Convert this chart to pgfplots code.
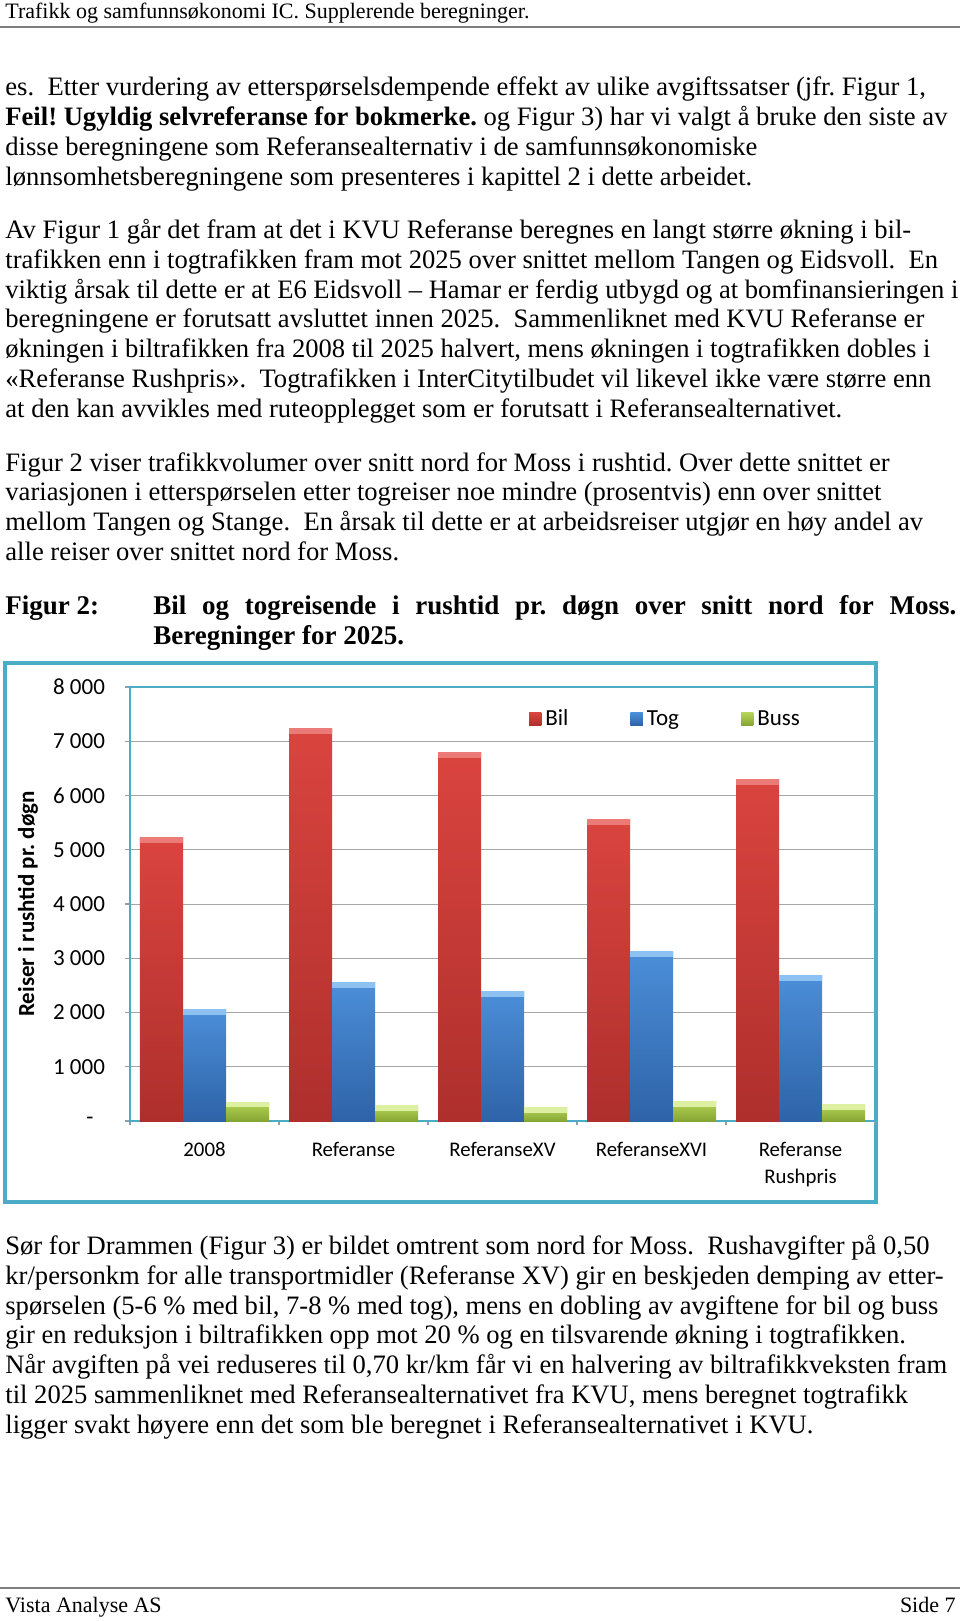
\documentclass[border=0pt]{standalone}
\usepackage{pgfplots}
\pgfplotsset{compat=1.18}
\usetikzlibrary{shapes.geometric}
\usepackage{fontspec}
\setmainfont{Liberation Serif}
\newfontfamily\carlito{Carlito}
\definecolor{frameteal}{HTML}{4BACC6}
\definecolor{rulegray}{HTML}{7F7F7F}
\definecolor{gridgray}{HTML}{A6A6A6}
\definecolor{axgray}{HTML}{8AA0AE}
\definecolor{bilTop}{HTML}{DA443F}
\definecolor{bilBot}{HTML}{AE2F2C}
\definecolor{bilHi}{HTML}{EC7A76}
\definecolor{togTop}{HTML}{4B8ED8}
\definecolor{togBot}{HTML}{2E63A8}
\definecolor{togHi}{HTML}{8DC1F1}
\definecolor{bussTop}{HTML}{B3D257}
\definecolor{bussBot}{HTML}{86A632}
\definecolor{bussHi}{HTML}{DDF0A2}
\newcommand\bodyfont{\fontsize{13.3}{16}\selectfont}
\newcommand\bl[2]{\node[anchor=base west,inner sep=0pt,font=\bodyfont] at (5,#1) {#2};}
\pgfplotsset{
 barbase/.style={ybar, bar width=21.5pt, draw=none, nodes near coords={},
   every node near coord/.append style={shape=trapezium, shape border rotate=180, trapezium left angle=50, trapezium right angle=50, trapezium stretches body, minimum width=21.5pt, minimum height=2.4pt, inner sep=0pt, outer sep=0pt, draw=none, anchor=north, yshift=0.2pt}},
 bil/.style={barbase, bar shift=-21.5pt, top color=bilTop, bottom color=bilBot,
   every node near coord/.append style={top color=bilHi, bottom color=bilHi, xshift=-21.5pt},
   legend image code/.code={\fill[top color=bilTop,bottom color=bilBot] (0pt,-3.1pt) rectangle (6.2pt,3.1pt);}},
 tog/.style={barbase, bar shift=0pt, top color=togTop, bottom color=togBot,
   every node near coord/.append style={top color=togHi, bottom color=togHi},
   legend image code/.code={\fill[top color=togTop,bottom color=togBot] (0pt,-3.1pt) rectangle (6.2pt,3.1pt);}},
 buss/.style={barbase, bar shift=21.5pt, top color=bussTop, bottom color=bussBot,
   every node near coord/.append style={top color=bussHi, bottom color=bussHi, xshift=21.5pt},
   legend image code/.code={\fill[top color=bussTop,bottom color=bussBot] (0pt,-3.1pt) rectangle (6.2pt,3.1pt);}},
}
\begin{document}
\frenchspacing
\begin{tikzpicture}
\useasboundingbox (0,0) rectangle (480pt,-810.5pt);
\begin{scope}[x=0.5pt,y=-0.5pt]
% header
\node[anchor=base west,inner sep=0pt,font=\fontsize{11}{13}\selectfont] at (5,19) {Trafikk og samfunnsøkonomi IC. Supplerende beregninger.};
\draw[rulegray,line width=1pt] (0,27.5) -- (960,27.5);
% paragraph 1
\bl{96}{es.~ Etter vurdering av etterspørselsdempende effekt av ulike avgiftssatser (jfr. Figur 1,}
\bl{125.8}{\textbf{Feil! Ugyldig selvreferanse for bokmerke.} og Figur 3) har vi valgt å bruke den siste av}
\bl{155.6}{disse beregningene som Referansealternativ i de samfunnsøkonomiske}
\bl{185.4}{lønnsomhetsberegningene som presenteres i kapittel 2 i dette arbeidet.}
% paragraph 2
\bl{238.5}{Av Figur 1 går det fram at det i KVU Referanse beregnes en langt større økning i bil-}
\bl{268.3}{trafikken enn i togtrafikken fram mot 2025 over snittet mellom Tangen og Eidsvoll.~ En}
\bl{298.1}{viktig årsak til dette er at E6 Eidsvoll – Hamar er ferdig utbygd og at bomfinansieringen i}
\bl{327.9}{beregningene er forutsatt avsluttet innen 2025.~ Sammenliknet med KVU Referanse er}
\bl{357.7}{økningen i biltrafikken fra 2008 til 2025 halvert, mens økningen i togtrafikken dobles i}
\bl{387.5}{«Referanse Rushpris».~ Togtrafikken i InterCitytilbudet vil likevel ikke være større enn}
\bl{417.3}{at den kan avvikles med ruteopplegget som er forutsatt i Referansealternativet.}
% paragraph 3
\bl{471}{Figur 2 viser trafikkvolumer over snitt nord for Moss i rushtid. Over dette snittet er}
\bl{500.8}{variasjonen i etterspørselen etter togreiser noe mindre (prosentvis) enn over snittet}
\bl{530.6}{mellom Tangen og Stange.~ En årsak til dette er at arbeidsreiser utgjør en høy andel av}
\bl{560.4}{alle reiser over snittet nord for Moss.}
% caption
\node[anchor=base west,inner sep=0pt,font=\fontsize{13.5}{16}\selectfont\bfseries] at (5,614.5) {Figur 2:};
\node[anchor=base west,inner sep=0pt,font=\fontsize{13.5}{16}\selectfont\bfseries] at (153,614.5) {\hbox to 401.5pt{Bil og togreisende i rushtid pr. døgn over snitt nord for Moss.}};
\node[anchor=base west,inner sep=0pt,font=\fontsize{13.5}{16}\selectfont\bfseries] at (153,644) {Beregninger for 2025.};
% chart frame
\draw[frameteal,line width=1.7pt] (5,663) rectangle (876,1202);
% paragraph 4
\bl{1254.5}{Sør for Drammen (Figur 3) er bildet omtrent som nord for Moss.~ Rushavgifter på 0,50}
\bl{1284.3}{kr/personkm for alle transportmidler (Referanse XV) gir en beskjeden demping av etter-}
\bl{1314.1}{spørselen (5-6 \% med bil, 7-8 \% med tog), mens en dobling av avgiftene for bil og buss}
\bl{1343.9}{gir en reduksjon i biltrafikken opp mot 20 \% og en tilsvarende økning i togtrafikken.}
\bl{1373.7}{Når avgiften på vei reduseres til 0,70 kr/km får vi en halvering av biltrafikkveksten fram}
\bl{1403.5}{til 2025 sammenliknet med Referansealternativet fra KVU, mens beregnet togtrafikk}
\bl{1433.3}{ligger svakt høyere enn det som ble beregnet i Referansealternativet i KVU.}
% footer
\draw[rulegray,line width=1.4pt] (0,1588) -- (960,1588);
\node[anchor=base west,inner sep=0pt,font=\fontsize{11}{13}\selectfont] at (5,1612) {Vista Analyse AS};
\node[anchor=base east,inner sep=0pt,font=\fontsize{11}{13}\selectfont] at (956,1612) {Side 7};
\end{scope}
\begin{axis}[
 at={(65pt,-560.5pt)}, anchor=south west,
 scale only axis, width=372.5pt, height=217pt,
 xmin=-0.5, xmax=4.5, ymin=0, ymax=8000,
 axis line style={draw=frameteal, line width=1.3pt},
 tick align=outside,
 xtick={0,1,2,3,4},
 xticklabels={\strut 2008,\strut Referanse,\strut ReferanseXV,\strut ReferanseXVI,{\strut Referanse\\Rushpris}},
 minor xtick={-0.5,0.5,1.5,2.5,3.5,4.5},
 major x tick style={draw=none},
 minor x tick style={draw=axgray, line width=0.6pt},
 minor tick length=2pt,
 ytick={0,1000,2000,3000,4000,5000,6000,7000,8000},
 yticklabels={-\rule{5.7pt}{0pt},1 000,2 000,3 000,4 000,5 000,6 000,7 000,8 000},
 major y tick style={draw=axgray, line width=0.6pt},
 major tick length=2.5pt,
 xtick pos=left, ytick pos=left,
 ymajorgrids, grid style={draw=gridgray, line width=0.5pt},
 yticklabel style={font=\carlito\fontsize{11.5}{13}\selectfont, anchor=east, xshift=-6.5pt},
 xticklabel style={font=\carlito\fontsize{10.4}{13.5}\selectfont, align=center, anchor=north, yshift=-2.1pt},
 ylabel={Reiser i rushtid pr. døgn},
 ylabel style={font=\carlito\bfseries\fontsize{11.5}{13}\selectfont, at={(axis description cs:-0.137,0.5)}, anchor=center},
 legend style={at={(0.527,0.926)}, anchor=west, draw=none, fill=none, font=\carlito\fontsize{11.5}{13}\selectfont, /tikz/every even column/.append style={column sep=29pt}},
 legend columns=3,
]
\addplot[bil] coordinates {(0,5220)};
\addlegendentry{Bil}
\addplot[bil,forget plot] coordinates {(1,7230)};
\addplot[bil,forget plot] coordinates {(2,6785)};
\addplot[bil,forget plot] coordinates {(3,5555)};
\addplot[bil,forget plot] coordinates {(4,6290)};
\addplot[tog] coordinates {(0,2050)};
\addlegendentry{Tog}
\addplot[tog,forget plot] coordinates {(1,2545)};
\addplot[tog,forget plot] coordinates {(2,2380)};
\addplot[tog,forget plot] coordinates {(3,3110)};
\addplot[tog,forget plot] coordinates {(4,2675)};
\addplot[buss] coordinates {(0,340)};
\addlegendentry{Buss}
\addplot[buss,forget plot] coordinates {(1,275)};
\addplot[buss,forget plot] coordinates {(2,245)};
\addplot[buss,forget plot] coordinates {(3,355)};
\addplot[buss,forget plot] coordinates {(4,295)};
\end{axis}
\end{tikzpicture}
\end{document}
